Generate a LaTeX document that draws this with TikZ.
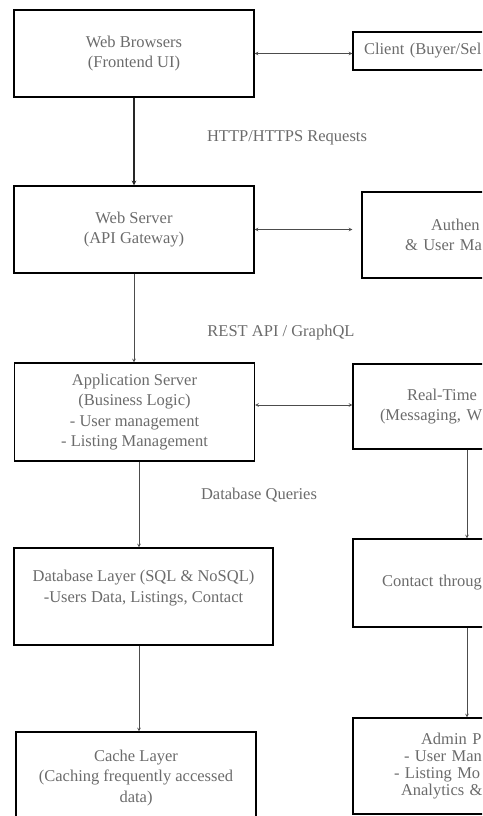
\documentclass[tikz,border=0pt]{standalone}
\usepackage{fontspec}
\setmainfont{Liberation Serif}
\tikzset{
  lbox/.style={draw,line width=1.4pt,minimum width=240pt,align=center,text=black!58,inner sep=0pt},
  rbox/.style={draw,line width=1.4pt,minimum width=240pt,text width=240pt,align=left,text=black!58,inner sep=0pt},
  conn/.style={draw=black!70,line width=.6pt},
  lbl/.style={text=black!58},
}
\begin{document}
\begin{tikzpicture}[>=stealth,x=1pt,y=-1pt,font=\fontsize{16.5}{20.5}\selectfont]
\useasboundingbox (0,0) rectangle (482,816);
\clip (0,0) rectangle (482,816);

\node[lbox,minimum height=87pt] (web) at (134,53.5) {Web Browsers\\(Frontend UI)};
\node[rbox,minimum height=38pt] (client) at (473,51) {\hspace*{11pt}Client (Buyer/Sel};
\node[lbox,minimum height=87pt] (websrv) at (134,229.5) {Web Server\\(API Gateway)};
\node[rbox,minimum height=86pt] (auth) at (482,235) {\hspace*{69pt}Authen\\\hspace*{43pt}\& User Ma};
\node[lbox,minimum height=98pt] (app) at (134.5,412) {Application Server\\(Business Logic)\\- User management\\- Listing Management};
\node[rbox,minimum height=85pt] (rt) at (473,406.5) {\hspace*{54pt}Real-Time\\\hspace*{27pt}(Messaging, W};
\node[lbox,minimum width=259pt,minimum height=97pt] (db) at (143.5,596.5) {Database Layer (SQL \& NoSQL)\\-Users Data, Listings, Contact\\~};
\node[rbox,minimum height=88pt] (contact) at (473,583) {\hspace*{29pt}Contact throug};
\node[lbox,minimum height=92pt] (cache) at (136,778) {Cache Layer\\(Caching frequently accessed\\data)};
\node[rbox,minimum height=96pt,font=\fontsize{16.5}{16.7}\selectfont] (admin) at (473,766) {\hspace*{68pt}Admin P\\\hspace*{51pt}- User Man\\\hspace*{41pt}- Listing Mo\\\hspace*{48pt}Analytics \&};

% labels on the links
\node[lbl] (http) at (287,138) {HTTP/HTTPS Requests};
\node[lbl] (rest) at (281,333) {REST API / GraphQL};
\node[lbl] (dbq) at (259,495) {Database Queries};

\draw[conn,draw=black!85,line width=1.1pt,->] (web) -- (websrv);
\draw[conn,->] (websrv.south) -- (websrv.south |- app.north);
\draw[conn,->] ([xshift=4.5pt]app.south) -- ([xshift=-4.5pt]db.north);
\draw[conn,->] ([xshift=-4.5pt]db.south) -- ([xshift=3pt]cache.north);

\draw[conn,<->] (web.east) -- (web.east -| client.west);
\draw[conn,<->,shorten >=9pt] (websrv.east) -- (websrv.east -| auth.west);
\draw[conn,<->] ([yshift=7pt]app.east) -- ([yshift=7pt]app.east -| rt.west);

\draw[conn,->] ([xshift=-6pt]rt.south) -- ([xshift=-6pt]contact.north);
\draw[conn,->] ([xshift=-6pt]contact.south) -- ([xshift=-6pt]admin.north);

\end{tikzpicture}
\end{document}
